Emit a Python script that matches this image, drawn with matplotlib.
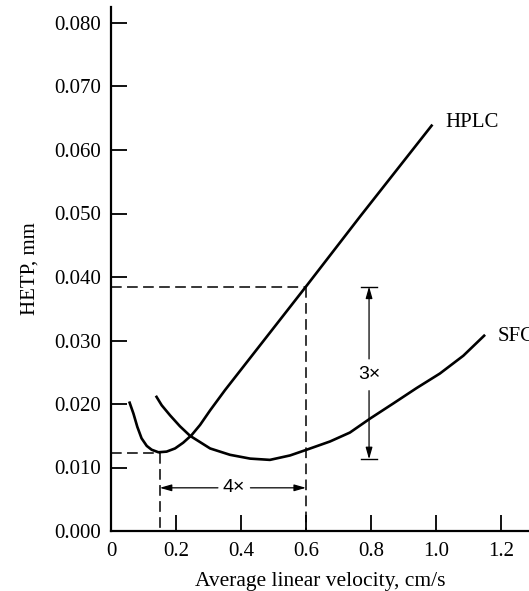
import matplotlib
matplotlib.use("Agg")
import matplotlib.pyplot as plt

# ---- data ----
hplc_u = [0.056, 0.069, 0.081, 0.094, 0.110, 0.125, 0.146, 0.171, 0.197, 0.222, 0.248,
          0.274, 0.305, 0.351, 0.60, 0.766, 0.989]
hplc_h = [0.0204, 0.0185, 0.0164, 0.0146, 0.0134, 0.0128, 0.0124, 0.0125, 0.0130, 0.0139, 0.0151,
          0.0167, 0.0190, 0.0222, 0.0385, 0.0495, 0.0640]

sfc_u = [0.138, 0.156, 0.182, 0.212, 0.243, 0.274, 0.305, 0.366, 0.428, 0.489, 0.551, 0.602,
         0.674, 0.735, 0.797, 0.869, 0.940, 1.012, 1.084, 1.151]
sfc_h = [0.0213, 0.0198, 0.0182, 0.0165, 0.0150, 0.0140, 0.0130, 0.0120, 0.0114, 0.0112, 0.0119, 0.0128,
         0.0141, 0.0155, 0.0177, 0.0201, 0.0225, 0.0248, 0.0276, 0.0309]

hplc_min = (0.15, 0.0123)
hplc_at_06 = (0.60, 0.0385)
sfc_min_h = 0.0113
arrow4_h = 0.0068
arrow3_u = 0.794

xticks = [0, 0.2, 0.4, 0.6, 0.8, 1.0, 1.2]
xticklabels = ["0", "0.2", "0.4", "0.6", "0.8", "1.0", "1.2"]
yticks = [0.000, 0.010, 0.020, 0.030, 0.040, 0.050, 0.060, 0.070, 0.080]
yticklabels = ["0.000", "0.010", "0.020", "0.030", "0.040", "0.050", "0.060", "0.070", "0.080"]

serif = "Liberation Serif"
sans = "Liberation Sans"
fs = 15

fig = plt.figure(figsize=(5.29, 5.91), dpi=100)
W, H = 529, 591
ax = fig.add_axes([111 / W, 1 - 531 / H, (W - 111) / W, (531 - 7) / H])
ax.set_xlim(0, (W - 111) / 325)
ax.set_ylim(0, (531 - 7) / 6350)

for s in ["top", "right"]:
    ax.spines[s].set_visible(False)
for s in ["left", "bottom"]:
    ax.spines[s].set_linewidth(1.6)

ax.set_xticks(xticks)
ax.set_xticklabels(xticklabels, fontfamily=serif, fontsize=fs)
ax.set_yticks(yticks)
ax.set_yticklabels(yticklabels, fontfamily=serif, fontsize=fs)
ax.tick_params(direction="in", length=11.5, width=1.3, pad=7)
ax.tick_params(axis="x", pad=8)

ax.set_xlabel("Average linear velocity, cm/s", fontfamily=serif, fontsize=15.5, labelpad=8)
ax.set_ylabel("HETP, mm", fontfamily=serif, fontsize=fs, labelpad=11)

# curves
ckw = dict(color="black", lw=1.9, solid_capstyle="butt", solid_joinstyle="round")
ax.plot(hplc_u, hplc_h, **ckw)
ax.plot(sfc_u, sfc_h, **ckw)

# dashed guide lines
dkw = dict(color="black", lw=1.1, dashes=(7, 3.5))
ax.plot([0, hplc_min[0]], [hplc_min[1], hplc_min[1]], **dkw)
ax.plot([hplc_min[0], hplc_min[0]], [hplc_min[1], 0], **dkw)
ax.plot([0, hplc_at_06[0]], [hplc_at_06[1], hplc_at_06[1]], **dkw)
ax.plot([hplc_at_06[0], hplc_at_06[0]], [hplc_at_06[1], 0], **dkw)

# 4x arrow
akw = dict(arrowstyle="-|>,head_length=0.7,head_width=0.2", color="black", lw=0.9,
           shrinkA=0, shrinkB=0)
mid4 = 0.379
ax.text(mid4, arrow4_h, "4×", fontfamily=sans, fontsize=14, ha="center", va="center")
ax.annotate("", xy=(hplc_min[0], arrow4_h), xytext=(mid4 - 0.05, arrow4_h), arrowprops=akw)
ax.annotate("", xy=(hplc_at_06[0], arrow4_h), xytext=(mid4 + 0.05, arrow4_h), arrowprops=akw)

# 3x arrow
mid3 = 0.0246
ax.text(arrow3_u, mid3, "3×", fontfamily=sans, fontsize=14, ha="center", va="center")
ax.annotate("", xy=(arrow3_u, hplc_at_06[1]), xytext=(arrow3_u, mid3 + 0.0025), arrowprops=akw)
ax.annotate("", xy=(arrow3_u, sfc_min_h), xytext=(arrow3_u, mid3 - 0.0025), arrowprops=akw)
ax.plot([arrow3_u - 0.024, arrow3_u + 0.024], [hplc_at_06[1], hplc_at_06[1]], color="black", lw=1.0)
ax.plot([arrow3_u - 0.024, arrow3_u + 0.024], [sfc_min_h, sfc_min_h], color="black", lw=1.0)

# series labels
ax.text(1.03, 0.0643, "HPLC", fontfamily=serif, fontsize=fs, ha="left", va="center")
ax.text(1.19, 0.0306, "SFC", fontfamily=serif, fontsize=fs, ha="left", va="center", clip_on=False)

fig.savefig("out.png", dpi=100)
